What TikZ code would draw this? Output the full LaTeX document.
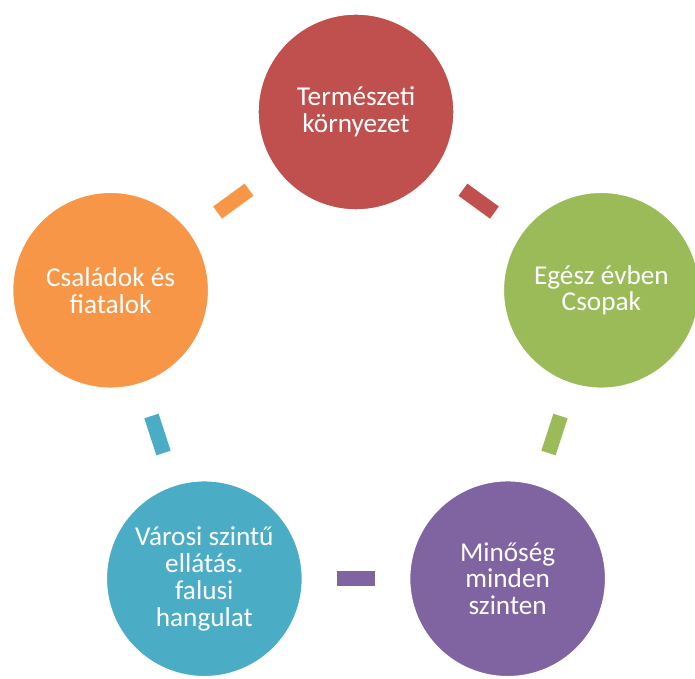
\documentclass[tikz,border=0pt]{standalone}
\usepackage{fontspec}
\setmainfont{Carlito}
\usetikzlibrary{calc}

\definecolor{piros}{HTML}{C0504D}
\definecolor{zold}{HTML}{9BBB59}
\definecolor{lila}{HTML}{8064A2}
\definecolor{kek}{HTML}{4BACC6}
\definecolor{narancs}{HTML}{F79646}

\begin{document}
\begin{tikzpicture}[
    kor/.style={circle, draw=white, line width=0.8pt, minimum size=3.92cm,
      inner sep=0pt, align=center, text=white,
      font=\fontsize{15.5}{15.3}\selectfont},
    kotes/.style={line width=0.3cm, shorten <=0.67cm, shorten >=0.67cm}
  ]
  \useasboundingbox (0,0) rectangle (13.9,-13.58);

  % Középpont
  \coordinate (O) at (7.12,-7.4);

  % Körök
  \node[kor, fill=piros] (termeszeti) at ($(O)+(90:5.16)$) {Természeti\\környezet};
  \node[kor, fill=zold] (egesz) at ($(O)+(18:5.16)$) {Egész évben\\Csopak};
  \node[kor, fill=lila] (minoseg) at ($(O)+(-54:5.16)$) {Minőség\\minden\\szinten};
  \node[kor, fill=kek] (varosi) at ($(O)+(-126:5.16)$) {Városi szintű\\ellátás.\\falusi\\hangulat};
  \node[kor, fill=narancs] (csaladok) at ($(O)+(162:5.16)$) {Családok és\\fiatalok};

  % Összekötők
  \draw[kotes, piros] (termeszeti) -- (egesz);
  \draw[kotes, zold] (egesz) -- (minoseg);
  \draw[kotes, lila] (minoseg) -- (varosi);
  \draw[kotes, kek] (varosi) -- (csaladok);
  \draw[kotes, narancs] (csaladok) -- (termeszeti);
\end{tikzpicture}
\end{document}
